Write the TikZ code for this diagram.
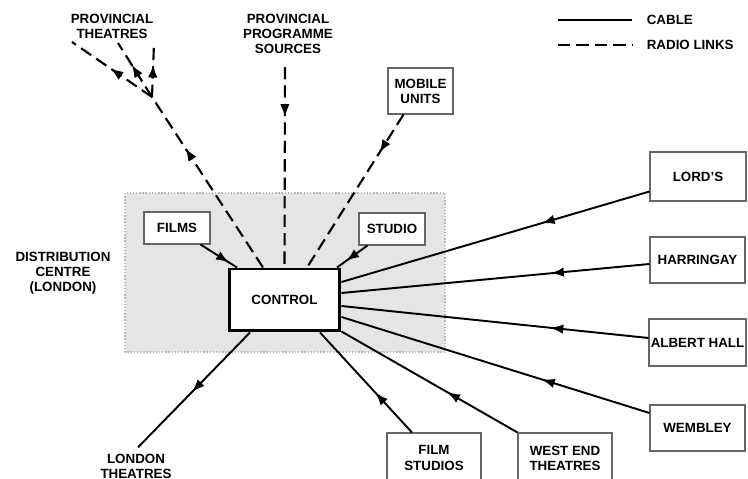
\documentclass[tikz,border=0pt]{standalone}
\usepackage{fontspec}
\setmainfont{Liberation Sans}
\usetikzlibrary{calc, positioning}
\usetikzlibrary{arrows.meta}
\usetikzlibrary{decorations.markings}

\tikzset{
  station/.style={draw=black!60, line width=0.6pt, fill=white, align=center, inner sep=1pt},
  label/.style={align=center, inner sep=0pt},
  cable/.style={line width=1.1pt},
  radio/.style={line width=1.2pt, dash pattern=on 7pt off 3.5pt},
  headat/.style={postaction={decorate}, decoration={markings,
      mark=at position #1 with {\arrow{Latex[length=2.6mm, width=1.9mm]}}}},
  every node/.style={font=\fontsize{7.6}{8.6}\selectfont\bfseries},
}

\begin{document}
\begin{tikzpicture}[x=0.02cm, y=-0.02cm]
\useasboundingbox (0,0) rectangle (748,479);

% distribution centre
\fill[gray!20] (125,193) rectangle (445,352);
\draw[gray!55, densely dotted, line width=0.8pt] (125,193) rectangle (445,352);

\node[station, draw=black, line width=1.7pt, minimum width=2.22cm, minimum height=1.24cm] (control) at (284.5,300) {CONTROL};
\node[station, minimum width=1.32cm, minimum height=0.64cm] (films) at (177,228) {FILMS};
\node[station, minimum width=1.32cm, minimum height=0.64cm] (studio) at (392,229) {STUDIO};
\node[station, minimum width=1.3cm, minimum height=0.92cm] (mobile) at (420.5,91) {MOBILE\\UNITS};

\node[station, minimum width=1.92cm, minimum height=0.98cm] (lords) at (698,176.5) {LORD'S};
\node[station, minimum width=1.9cm, minimum height=0.92cm] (harringay) at (697.5,260) {HARRINGAY};
\node[station, minimum width=1.9cm, minimum height=0.94cm] (albert) at (697.5,342.5) {ALBERT HALL};
\node[station, minimum width=1.9cm, minimum height=0.92cm] (wembley) at (697.5,428) {WEMBLEY};
\node[station, minimum width=1.88cm, minimum height=1.0cm] (filmstudios) at (434,458) {FILM\\STUDIOS};
\node[station, minimum width=1.88cm, minimum height=1.0cm] (westend) at (565,458) {WEST END\\THEATRES};

\node[label] (distlabel) at (63,273) {DISTRIBUTION\\CENTRE\\(LONDON)};
\node[label] (londonth) at (136,466) {LONDON\\THEATRES};
\node[label] (provth) at (112,26) {PROVINCIAL\\THEATRES};
\node[label] (progsrc) at (288,34) {PROVINCIAL\\PROGRAMME\\SOURCES};

% free ends of the radio links
\coordinate (split) at (152,97);
\coordinate (thA) at (72,42);
\coordinate (thB) at (118,43);
\coordinate (thC) at (154,43);
\coordinate (srcend) at (285,67);

% cables into control
\draw[cable, headat=0.35] ($(lords.south west)+(0,-10)$) -- ($(control.east)+(0,-18)$);
\draw[cable, headat=0.32] ($(harringay.west)+(0,4)$) -- ($(control.east)+(0,-7)$);
\draw[cable, headat=0.32] ($(albert.west)+(0,-4.5)$) -- ($(control.east)+(0,6)$);
\draw[cable, headat=0.35] ($(wembley.west)+(0,-15)$) -- ($(control.east)+(0,17)$);
\draw[cable, headat=0.40] (westend.north west) -- ($(control.south east)+(0,-1)$);
\draw[cable, headat=0.40] ($(filmstudios.north)+(-22,0)$) -- ($(control.south)+(35.5,0)$);
\draw[cable, headat=0.52] ($(control.south)+(-34.5,0)$) -- ($(londonth.north)+(2,-6)$);
\draw[cable, headat=0.78] ($(films.south east)+(-10,0)$) -- ($(control.north)+(-47.5,0)$);
\draw[cable, headat=0.70] ($(studio.south west)+(9,0)$) -- ($(control.north)+(52.5,0)$);

% radio links
\draw[radio, headat=0.25] (srcend) -- (control.north);
\draw[radio, headat=0.25] ($(mobile.south)+(-17,0)$) -- ($(control.north)+(22.5,0)$);
\draw[radio, headat=0.70] ($(control.north)+(-21.5,0)$) -- (split);
\draw[radio, headat=0.52] (split) -- (thA);
\draw[radio, headat=0.60] (split) -- (thB);
\draw[radio, headat=0.60] (split) -- (thC);

% key
\coordinate (cableA) at (558,20);
\coordinate (cableB) at (632,20);
\coordinate (radioA) at (558,45);
\coordinate (radioB) at (632,45);
\draw[line width=0.9pt] (cableA) -- (cableB) node[label, right=8pt of cableB, anchor=west] (cablekey) {CABLE};
\draw[line width=0.9pt, dash pattern=on 7pt off 3.5pt] (radioA) -- (radioB) node[label, right=8pt of radioB, anchor=west] (radiokey) {RADIO LINKS};
\end{tikzpicture}
\end{document}
